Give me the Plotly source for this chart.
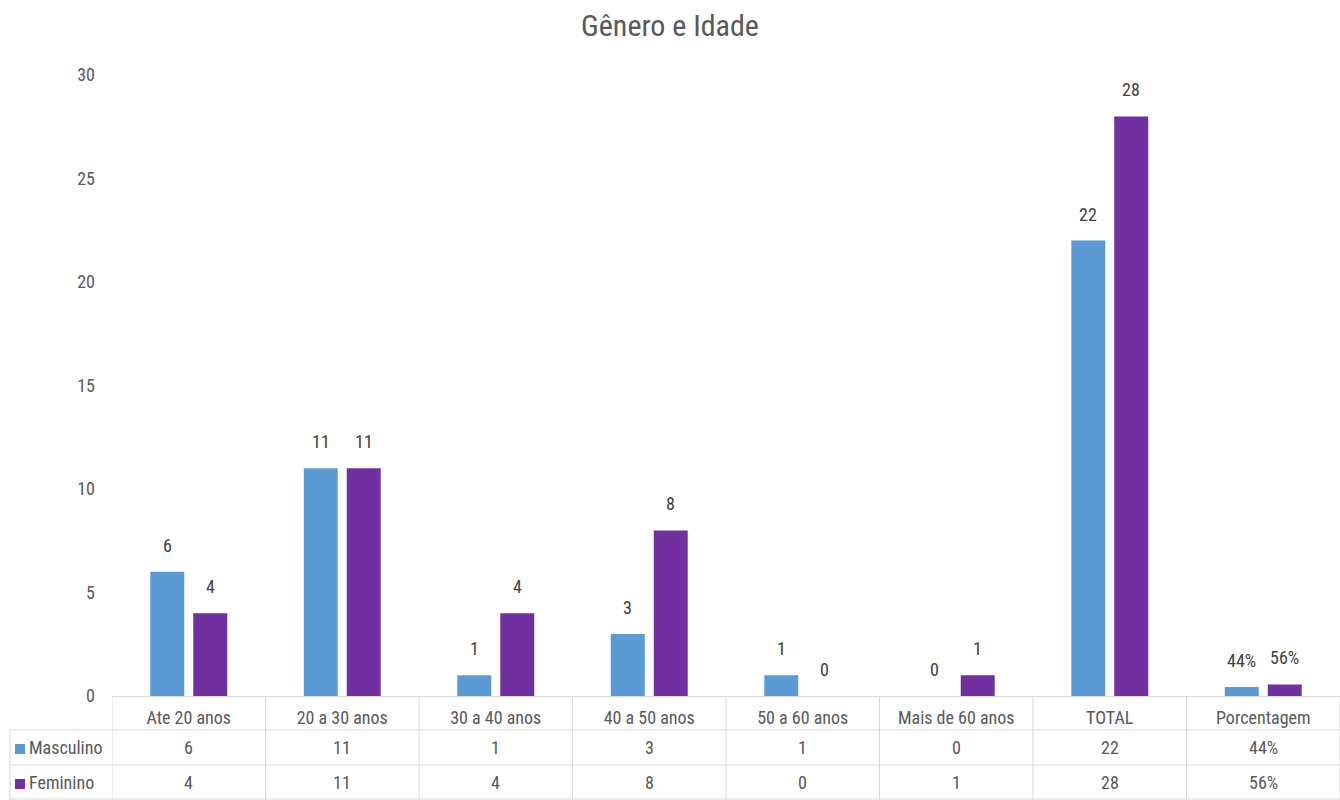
import plotly.graph_objects as go

categories = ["Ate 20 anos", "20 a 30 anos", "30 a 40 anos", "40 a 50 anos",
              "50 a 60 anos", "Mais de 60 anos", "TOTAL", "Porcentagem"]
masculino = [6, 11, 1, 3, 1, 0, 22, 0.44]
feminino = [4, 11, 4, 8, 0, 1, 28, 0.56]
series_names = ["Masculino", "Feminino"]
colors = ["#5B9BD5", "#7030A0"]
y_ticks = [0, 5, 10, 15, 20, 25, 30]

FONT = "Liberation Sans Narrow, Roboto Condensed, Arial Narrow, sans-serif"
GRAY = "#595959"
LINE = "#D9D9D9"
FS = 18

W, H = 1340, 800
ML, MR, MT, MB = 112, 0, 75, 104
plot_h = H - MT - MB
plot_w = W - ML - MR


def py(pix):
    """pixel y -> paper y"""
    return (H - MB - pix) / plot_h


def px(pix):
    return (pix - ML) / plot_w


def fmt(v):
    return f"{round(v * 100)}%" if 0 < v < 1 else f"{v:g}"


fig = go.Figure()
for name, vals, col in zip(series_names, [masculino, feminino], colors):
    fig.add_trace(go.Bar(x=categories, y=vals, name=name, marker_color=col,
                         marker_line_width=0, showlegend=False))

annotations = []
shapes = []
# data labels
for k, vals in enumerate([masculino, feminino]):
    for c, v in zip(categories, vals):
        annotations.append(dict(x=c, y=v, xref="x", yref="y", text=fmt(v),
                                showarrow=False, yanchor="bottom",
                                xshift=(-21.5 if k == 0 else 21.5), yshift=14,
                                font=dict(family=FONT, size=FS, color="#404040")))

# data table values
row_centers = [747, 782]
for k, vals in enumerate([masculino, feminino]):
    for c, v in zip(categories, vals):
        annotations.append(dict(x=c, y=py(row_centers[k]), xref="x", yref="paper",
                                text=fmt(v), showarrow=False, yanchor="middle",
                                font=dict(family=FONT, size=FS, color=GRAY)))
    # legend column
    annotations.append(dict(x=px(27), y=py(row_centers[k]), xref="paper", yref="paper",
                            text=series_names[k], showarrow=False, xanchor="left",
                            yanchor="middle",
                            font=dict(family=FONT, size=FS, color=GRAY)))
    shapes.append(dict(type="rect", xref="paper", yref="paper",
                       x0=px(15), x1=px(25), y0=py(row_centers[k] + 7), y1=py(row_centers[k] - 3),
                       fillcolor=colors[k], line_width=0))

# table grid lines
n = len(categories)
for i in range(n + 1):
    shapes.append(dict(type="line", xref="x", yref="paper", x0=i - 0.5, x1=i - 0.5,
                       y0=py(696), y1=py(800), line=dict(color=LINE, width=1)))
for yy in [730, 765, 799]:
    shapes.append(dict(type="line", xref="paper", yref="paper", x0=px(10), x1=1,
                       y0=py(yy), y1=py(yy), line=dict(color=LINE, width=1)))
shapes.append(dict(type="line", xref="paper", yref="paper", x0=px(10), x1=px(10),
                   y0=py(730), y1=py(800), line=dict(color=LINE, width=1)))

fig.update_layout(
    width=W, height=H,
    margin=dict(l=ML, r=MR, t=MT, b=MB),
    paper_bgcolor="white", plot_bgcolor="white",
    title=dict(text="Gênero e Idade", x=0.5, xanchor="center", y=1 - 25 / H,
               yanchor="middle", font=dict(family=FONT, size=30, color=GRAY)),
    barmode="group", bargap=0.44, bargroupgap=0.21,
    xaxis=dict(showgrid=False, showline=True, linecolor=LINE, linewidth=1,
               ticks="", tickfont=dict(family=FONT, size=FS, color=GRAY),
               ticklabelstandoff=5, range=[-0.5, n - 0.5]),
    yaxis=dict(range=[0, 30], tickvals=y_ticks, showgrid=False, zeroline=False,
               showline=False, ticks="", ticklabelstandoff=16,
               tickfont=dict(family=FONT, size=FS, color=GRAY)),
    annotations=annotations, shapes=shapes,
)

fig.write_html("out.html")
